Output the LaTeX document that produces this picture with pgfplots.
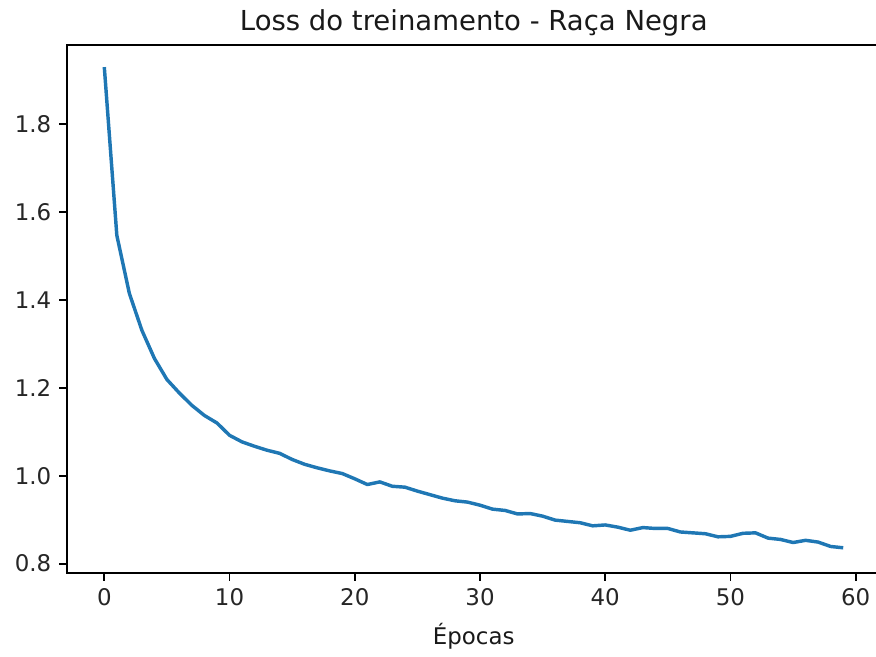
\documentclass[border=0pt]{standalone}
\usepackage{fontspec}
\setmainfont{DejaVu Sans}
\usepackage{pgfplots}
\pgfplotsset{compat=1.18}
\definecolor{mplblue}{HTML}{1F77B4}

\begin{document}
\begin{tikzpicture}
\begin{axis}[
  name=ax, at={(0,0)}, anchor=south west,
  scale only axis,
  width=354.7pt, height=230.4pt,
  xmin=-2.95, xmax=61.95,
  ymin=0.7795, ymax=1.981,
  xtick={0,10,20,30,40,50,60},
  ytick={0.8,1.0,1.2,1.4,1.6,1.8},
  yticklabel style={/pgf/number format/fixed, /pgf/number format/fixed zerofill, /pgf/number format/precision=1},
  /pgf/number format/assume math mode=true,
  tick pos=left,
  tick align=outside,
  major tick length=3.5pt,
  tick style={black, line width=0.8pt},
  axis line style={black, line width=0.8pt},
  ticklabel style={font=\fontsize{10}{12}\selectfont, text=black!85},
  title={Loss do treinamento - Raça Negra},
  every axis title/.style={font=\fontsize{12}{14}\selectfont, at={(0.5,1)}, anchor=base, yshift=6pt, inner sep=0pt, text=black!90},
  xlabel={Épocas},
  every axis x label/.style={font=\fontsize{10}{12}\selectfont, at={(0.5,0)}, anchor=base, yshift=-31.5pt, inner sep=0pt, text=black!90},
  clip=false,
]
% loss por epoca
\addplot[mplblue, line width=1.5pt, line join=round] coordinates {
(0,1.930) (1,1.547) (2,1.415) (3,1.331) (4,1.267) (5,1.219) (6,1.188) (7,1.160)
(8,1.137) (9,1.120) (10,1.092) (11,1.077) (12,1.067) (13,1.058) (14,1.051)
(15,1.037) (16,1.026) (17,1.018) (18,1.011) (19,1.005) (20,0.993) (21,0.980)
(22,0.986) (23,0.976) (24,0.974) (25,0.965) (26,0.957) (27,0.949) (28,0.943)
(29,0.940) (30,0.933) (31,0.924) (32,0.921) (33,0.913) (34,0.914) (35,0.908)
(36,0.899) (37,0.896) (38,0.893) (39,0.886) (40,0.888) (41,0.883) (42,0.876)
(43,0.882) (44,0.880) (45,0.880) (46,0.872) (47,0.870) (48,0.868) (49,0.861)
(50,0.862) (51,0.869) (52,0.870) (53,0.858) (54,0.855) (55,0.848) (56,0.853)
(57,0.849) (58,0.839) (59,0.836)
};
\end{axis}
\pgfresetboundingbox
\useasboundingbox (-29.4pt,-36.8pt) rectangle (352.9pt,249.9pt);
\end{tikzpicture}
\end{document}
